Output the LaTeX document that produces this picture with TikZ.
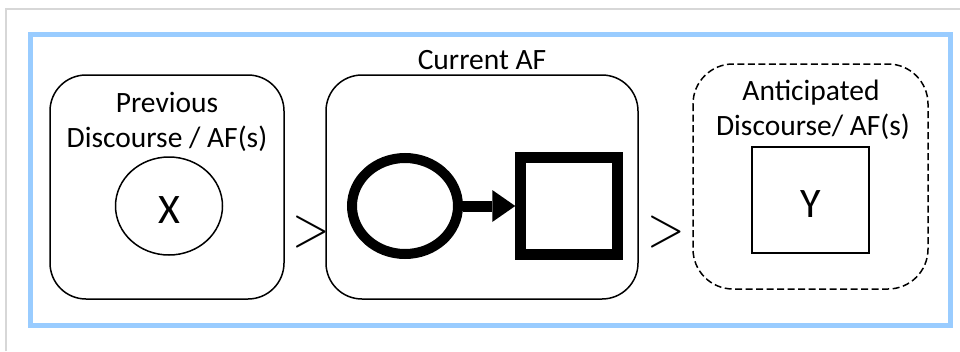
\documentclass[tikz,border=0pt]{standalone}
\usepackage{fontspec}
\setmainfont{Carlito}
\newfontfamily\lmrgt{Latin Modern Roman}
\usetikzlibrary{arrows.meta,shapes.geometric}
\definecolor{frameblue}{RGB}{153,204,255}
\definecolor{pagegray}{RGB}{215,215,215}
\tikzset{
  rbox/.style={draw=black,line width=1.5pt,rounded corners=36pt},
  lbl/.style={font=\fontsize{29.5}{34}\selectfont,inner sep=0pt,anchor=base},
  big/.style={font=\fontsize{42}{44}\selectfont,inner sep=0pt,anchor=base},
  gt/.style={font=\lmrgt\fontsize{58}{60}\selectfont,inner sep=0pt,xscale=0.85},
}
\begin{document}
\begin{tikzpicture}[x=1pt,y=-1pt]
\useasboundingbox (0,0) rectangle (960,351);
% page edges
\draw[pagegray,line width=1.2pt] (6,351) -- (6,9) -- (960,9);
% blue frame
\draw[frameblue,line width=5pt] (30.5,34.5) rectangle (950.5,325.5);
% previous box
\draw[rbox] (50,75) rectangle (284,299);
\node[lbl] (prev1) at (167,112) {Previous};
\node[lbl] (prev2) at (167,147) {Discourse / AF(s)};
\node[draw,ellipse,line width=1.5pt,minimum width=107pt,minimum height=98pt,inner sep=0pt] (x) at (169,206) {};
\node[big] (xt) at (169,223) {X};
% >
\node[gt] (g1) at (311,232) {>};
% current box
\draw[rbox] (326,75) rectangle (638,299);
\node[lbl] (cur) at (482,69) {Current AF};
\node[draw,ellipse,line width=10pt,minimum width=106pt,minimum height=96pt,inner sep=0pt] (c) at (405,206) {};
\node[draw,rectangle,line width=10.5pt,minimum width=97pt,minimum height=97pt,inner sep=0pt] (s) at (569,206) {};
\draw[line width=11pt,-{Triangle[length=23pt,width=32pt,line width=0pt]}] (c.east) -- (s.west);
% >
\node[gt] (g2) at (666,232) {>};
% anticipated box
\draw[rbox,dash pattern=on 7pt off 3.5pt,rounded corners=40pt] (693,64) rectangle (928,289);
\node[lbl] (ant1) at (811,100) {Anticipated};
\node[lbl] (ant2) at (813,135) {Discourse/ AF(s)};
\node[draw,rectangle,line width=1.5pt,minimum width=117pt,minimum height=106pt,inner sep=0pt] (y) at (810.5,200) {};
\node[big] (yt) at (810.5,217) {Y};
\end{tikzpicture}
\end{document}
